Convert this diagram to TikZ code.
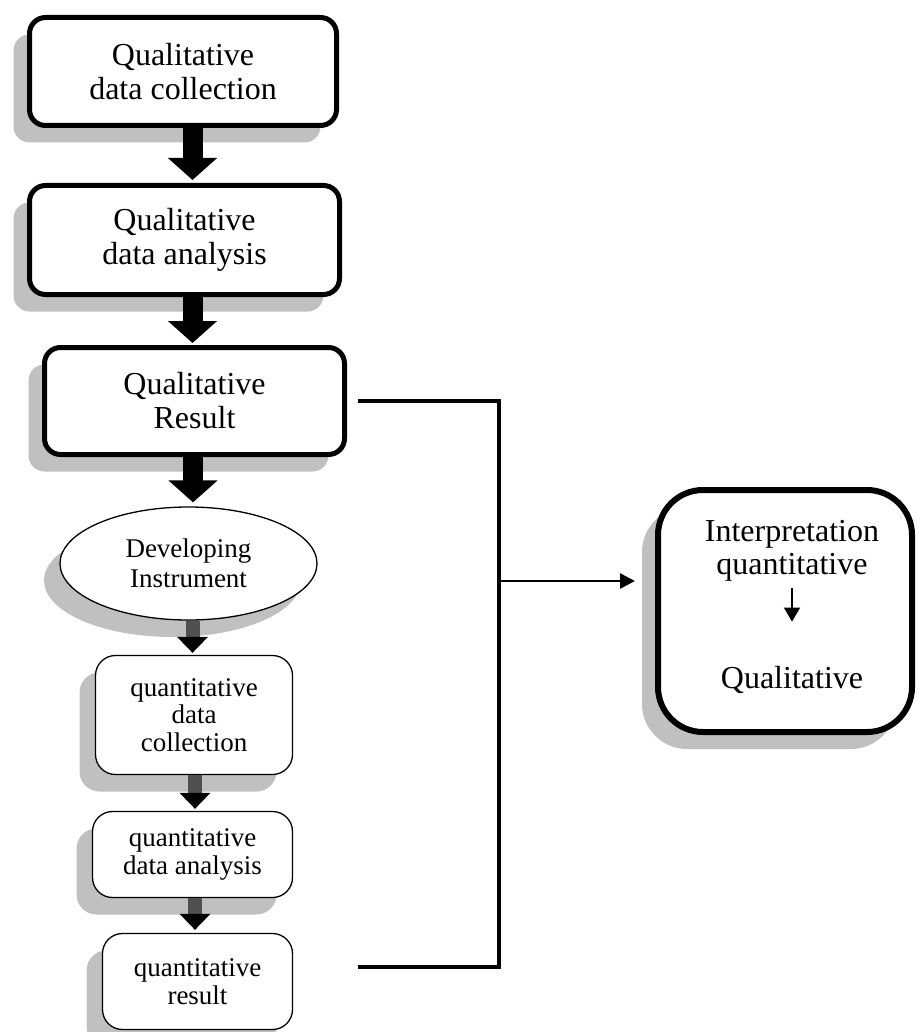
\documentclass[tikz,border=0pt]{standalone}
\usepackage{fontspec}
\setmainfont{Liberation Serif}
\usetikzlibrary{arrows.meta,shadows,shapes.geometric}
\definecolor{shadowgray}{RGB}{192,192,192}
\definecolor{shaftgray}{RGB}{80,80,80}
\begin{document}
\begin{tikzpicture}[x=1pt,y=-1pt,
  shadowed/.style={drop shadow={shadow xshift=-16pt,shadow yshift=-17pt,fill=shadowgray,opacity=1}},
  bigbox/.style={shadowed,draw,fill=white,line width=5pt,rounded corners=16pt,inner sep=0pt,
    align=center,font=\fontsize{32}{34}\selectfont},
  smallbox/.style={shadowed,draw,fill=white,line width=1.3pt,rounded corners=20pt,inner sep=0pt,
    align=center,font=\fontsize{27}{27.5}\selectfont},
  bigarrow/.style={line width=20pt,-{Triangle[width=48pt,length=22pt]}},
  smallarrow/.style={draw=shaftgray,line width=14pt,-{Triangle[width=30pt,length=16pt,color=black]}},
  link/.style={line width=3.5pt},
]
\useasboundingbox (0,0) rectangle (917,1032);

% qualitative strand
\node[bigbox,minimum width=307pt,minimum height=108pt] (q1) at (183,71.5) {Qualitative\\data collection};
\node[bigbox,minimum width=310pt,minimum height=109pt] (q2) at (184.5,240) {Qualitative\\data analysis};
\node[bigbox,minimum width=300pt,minimum height=107pt] (q3) at (194.5,401) {Qualitative\\Result};

% instrument development
\node[shadowed,draw,fill=white,shape=ellipse,line width=1.3pt,inner sep=0pt,
      minimum width=257pt,minimum height=113pt,align=center,
      font=\fontsize{27}{30}\selectfont] (dev) at (188.5,563.5) {Developing\\Instrument};

% quantitative strand
\node[smallbox,minimum width=197pt,minimum height=119pt] (n1) at (194,715) {quantitative\\data\\collection};
\node[smallbox,minimum width=200pt,minimum height=86pt] (n2) at (192.5,854.5) {quantitative\\data analysis};
\node[smallbox,minimum width=190pt,minimum height=96pt] (n3) at (197.5,981.5) {quantitative\\result};

% interpretation
\node[shadowed,draw,fill=white,line width=6pt,rounded corners=45pt,
      minimum width=254pt,minimum height=242pt] (rb) at (785,611) {};
\node[align=center,inner sep=0pt,font=\fontsize{32}{33}\selectfont] (rt) at (792,551) {Interpretation\\quantitative};
\node[inner sep=0pt,font=\fontsize{32}{33}\selectfont,anchor=base] (rq) at (792,688) {Qualitative};
\draw[line width=1.5pt,-{Triangle[length=14pt,width=16pt]},shorten <=6pt,shorten >=44pt] (rt.south) -- (rq.north);

% block arrows between the steps
\draw[bigarrow] ([xshift=9.5pt]q1.south) -- ([xshift=8pt,yshift=3pt]q2.north);
\draw[bigarrow] ([xshift=8pt]q2.south) -- ([xshift=-2pt,yshift=2pt]q3.north);
\draw[bigarrow] ([xshift=-1.5pt]q3.south) -- ([xshift=4.5pt,yshift=4pt]dev.north);
\draw[smallarrow] ([xshift=4pt]dev.south) -- ([xshift=-1.5pt,yshift=2pt]n1.north);
\draw[smallarrow] ([xshift=1pt]n1.south) -- ([xshift=2.5pt,yshift=2pt]n2.north);
\draw[smallarrow] ([xshift=2.5pt]n2.south) -- ([xshift=-2.5pt,yshift=3pt]n3.north);

% results feeding the interpretation
\coordinate (c1) at (358,401);
\coordinate (c2) at (499,401);
\coordinate (j)  at (499,581);
\coordinate (c3) at (499,967);
\coordinate (c4) at (358,967);
\draw[link] (c1) -- (c2) -- (c3) -- (c4);
\draw[line width=2.5pt,-{Triangle[length=15pt,width=15pt]},shorten >=20pt] (j) -- (j -| rb.west);
\end{tikzpicture}
\end{document}
